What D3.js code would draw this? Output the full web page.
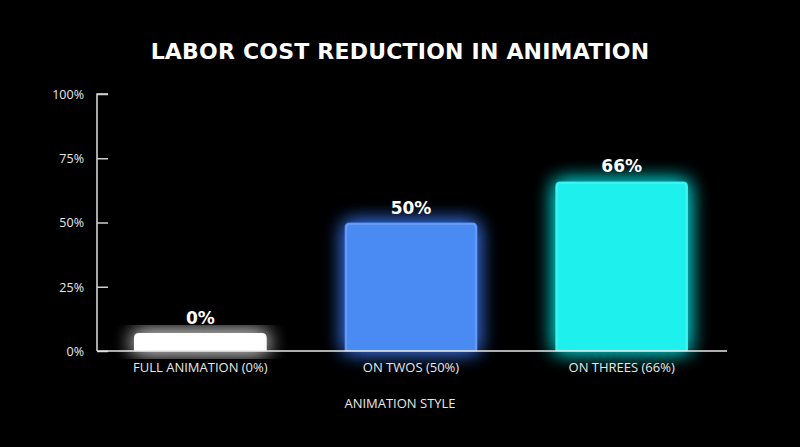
<!DOCTYPE html>
<html>
<head>
<meta charset="utf-8">
<script src="https://cdn.jsdelivr.net/npm/d3@7/dist/d3.min.js"></script>
<style>
  html, body { margin: 0; padding: 0; background: #000; }
  svg { display: block; }
</style>
</head>
<body>
<svg id="chart" width="800" height="447"></svg>
<script>
const categories = ["FULL ANIMATION (0%)", "ON TWOS (50%)", "ON THREES (66%)"];
const values = [0, 50, 66];
const valueLabels = ["0%", "50%", "66%"];
const barColors = ["#ffffff", "#4a8af3", "#1ef0ee"];
const glowColors = ["#ffffff", "#3f7fff", "#00f0f0"];
const yTicks = [0, 25, 50, 75, 100];
const minVisible = 7; // minimum drawn height (in %) so the 0% bar stays visible

const W = 800, H = 447;
const svg = d3.select("#chart");
const defs = svg.append("defs");

glowColors.forEach((c, i) => {
  const f = defs.append("filter").attr("id", "glow" + i)
    .attr("x", "-40%").attr("y", "-40%").attr("width", "180%").attr("height", "180%");
  f.append("feGaussianBlur").attr("in", "SourceGraphic").attr("stdDeviation", 10).attr("result", "b");
  const m = f.append("feMerge");
  m.append("feMergeNode").attr("in", "b");
  m.append("feMergeNode").attr("in", "b");
});

const x = d3.scaleBand().domain(categories).range([95, 727]).paddingInner(0.37).paddingOuter(0.185);
const y = d3.scaleLinear().domain([0, 100]).range([351, 94]);

// title
svg.append("text").attr("x", 400).attr("y", 59).attr("text-anchor", "middle")
  .attr("fill", "#fff").attr("font-family", "'DejaVu Sans', sans-serif")
  .attr("font-weight", "bold").attr("font-size", 22).attr("letter-spacing", 0.2)
  .text("LABOR COST REDUCTION IN ANIMATION");

function barPath(x0, w, yTop, yBot, r) {
  return `M${x0},${yBot} L${x0},${yTop + r} Q${x0},${yTop} ${x0 + r},${yTop} L${x0 + w - r},${yTop} Q${x0 + w},${yTop} ${x0 + w},${yTop + r} L${x0 + w},${yBot} Z`;
}

const bars = svg.append("g");
categories.forEach((c, i) => {
  const v = Math.max(values[i], minVisible);
  const x0 = x(c), w = x.bandwidth(), yt = y(v), yb = y(0);
  bars.append("path").attr("d", barPath(x0, w, yt, yb, 5))
    .attr("fill", glowColors[i]).attr("opacity", i === 0 ? 0.75 : 0.8)
    .attr("filter", `url(#glow${i})`);
  bars.append("path").attr("d", barPath(x0, w, yt, yb, 5))
    .attr("fill", barColors[i]);
  bars.append("path").attr("d", barPath(x0 + 1.5, w - 3, yt + 1.5, yb, 4))
    .attr("fill", "none").attr("stroke", "#ffffff").attr("stroke-opacity", 0.15).attr("stroke-width", 2);
  svg.append("text").attr("x", x0 + w / 2).attr("y", yt - 9).attr("text-anchor", "middle")
    .attr("fill", "#fff").attr("font-family", "'DejaVu Sans', sans-serif")
    .attr("font-weight", "bold").attr("font-size", 17).text(valueLabels[i]);
});

// y axis
const yAxis = d3.axisRight(y).tickValues(yTicks).tickSize(11).tickFormat(d => d + "%");
const gy = svg.append("g").attr("transform", "translate(97,0)").call(yAxis);
gy.select(".domain").attr("stroke", "#e0e0e0").attr("stroke-width", 1.5).attr("d", `M11,${y(100)}H0V${y(0)}`);
gy.selectAll(".tick line").attr("stroke", "#cfcfcf").attr("stroke-width", 1.5);
gy.selectAll(".tick text").attr("x", -13).attr("text-anchor", "end").attr("dy", "0.35em")
  .attr("fill", "#e8e8e8").attr("font-family", "'Open Sans', sans-serif").attr("font-size", 12.5);

// x axis
const xAxis = d3.axisBottom(x).tickSize(0).tickPadding(12);
const gx = svg.append("g").attr("transform", `translate(0,${y(0)})`).call(xAxis);
gx.select(".domain").attr("stroke", "#e8e8e8").attr("stroke-width", 1.5).attr("d", `M97,0H727`);
gx.selectAll(".tick text").attr("fill", "#e8e8e8").attr("font-family", "'Open Sans', sans-serif")
  .attr("font-size", 13).attr("dy", "0.71em");

svg.append("text").attr("x", 400).attr("y", 408).attr("text-anchor", "middle")
  .attr("fill", "#e8e8e8").attr("font-family", "'Open Sans', sans-serif").attr("font-size", 13)
  .text("ANIMATION STYLE");
</script>
</body>
</html>
